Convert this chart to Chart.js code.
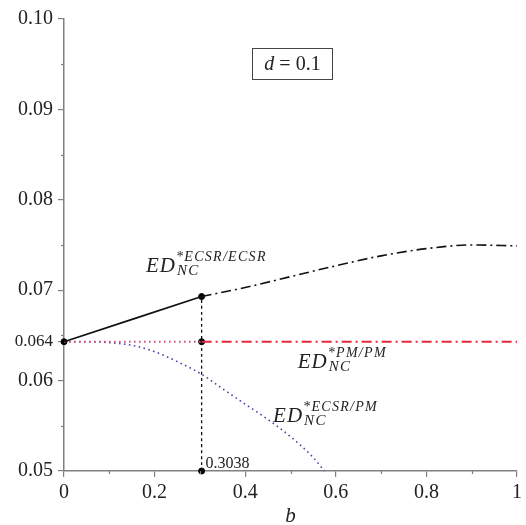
<!DOCTYPE html>
<html>
<head>
<meta charset="utf-8">
<script src="https://cdn.jsdelivr.net/npm/chart.js@4.4.1/dist/chart.umd.min.js"></script>
<style>
  html, body { margin: 0; padding: 0; background: #fff; }
</style>
</head>
<body>
<canvas id="chart" width="526" height="525"></canvas>
<script>
// values (d = 0.1)
const bStar = 0.3038;
const edPmPm = 0.0643;

const bSolid = [0, 0.3038];
const edEcsrEcsrSolid = [0.0643, 0.0693];

const bDashDot = [0.3038, 0.4, 0.5, 0.6, 0.7, 0.8, 0.9, 1.0];
const edEcsrEcsrDashDot = [0.0693, 0.0703, 0.0715, 0.0727, 0.0738, 0.0746, 0.0750, 0.0749];

const bEcsrPm = [0, 0.05, 0.1, 0.15, 0.2, 0.25, 0.3038, 0.35, 0.4, 0.45, 0.5, 0.55, 0.575];
const edEcsrPm = [0.0643, 0.0643, 0.0642, 0.0639, 0.0632, 0.0621, 0.0607, 0.0591, 0.0574, 0.0557, 0.0538, 0.0515, 0.0500];

const xTickValues = [0, 0.2, 0.4, 0.6, 0.8, 1];
const xTickLabels = ['0', '0.2', '0.4', '0.6', '0.8', '1'];
const xMinorTicks = [0.1, 0.3, 0.5, 0.7, 0.9];
const yTickValues = [0.05, 0.06, 0.0643, 0.07, 0.08, 0.09, 0.10];
const yTickLabels = ['0.05', '0.06', '0.064', '0.07', '0.08', '0.09', '0.10'];
const yMinorTicks = [0.055, 0.065, 0.075, 0.085, 0.095];

const serif = '"Liberation Serif", "Times New Roman", serif';
const dashDot = [10, 4, 2, 4];
const dotted = [1.6, 3.4];

const pts = (xs, ys) => xs.map((x, i) => ({ x: x, y: ys[i] }));

function line(data, color, dash, width) {
  return {
    data: data,
    showLine: true,
    borderColor: color,
    borderWidth: width || 1.5,
    borderDash: dash,
    pointRadius: 0,
    cubicInterpolationMode: 'monotone',
    clip: false
  };
}

// math-style label: ED with super- and subscript
function drawEd(ctx, x, y, sup, sub) {
  ctx.fillStyle = '#222';
  ctx.textAlign = 'left';
  ctx.textBaseline = 'alphabetic';
  ctx.letterSpacing = '1px';
  ctx.font = 'italic 21px ' + serif;
  ctx.fillText('ED', x, y);
  const w = ctx.measureText('ED').width;
  ctx.letterSpacing = '1.3px';
  ctx.font = 'italic 14px ' + serif;
  ctx.fillText(sup, x + w, y - 11);
  ctx.font = 'italic 15px ' + serif;
  ctx.fillText(sub, x + w + 1, y + 3);
  ctx.letterSpacing = '0px';
}

const extras = {
  id: 'extras',
  afterDraw(chart) {
    const ctx = chart.ctx;
    const xs = chart.scales.x, ys = chart.scales.y;
    const area = chart.chartArea;
    ctx.save();
    ctx.strokeStyle = '#808080';
    ctx.lineWidth = 1.2;
    // minor ticks
    yMinorTicks.forEach(v => {
      const py = Math.round(ys.getPixelForValue(v)) + 0.5;
      ctx.beginPath(); ctx.moveTo(area.left - 3, py); ctx.lineTo(area.left, py); ctx.stroke();
    });
    xMinorTicks.forEach(v => {
      const px = Math.round(xs.getPixelForValue(v)) + 0.5;
      ctx.beginPath(); ctx.moveTo(px, area.bottom); ctx.lineTo(px, area.bottom + 3); ctx.stroke();
    });

    // d = 0.1 box
    const bx1 = xs.getPixelForValue(0.4156), bx2 = xs.getPixelForValue(0.5932);
    const by1 = ys.getPixelForValue(0.09678), by2 = ys.getPixelForValue(0.09333);
    ctx.strokeStyle = '#444';
    ctx.lineWidth = 1;
    ctx.strokeRect(Math.round(bx1) + 0.5, Math.round(by1) + 0.5, Math.round(bx2 - bx1), Math.round(by2 - by1));
    const cx = (bx1 + bx2) / 2, cy = (by1 + by2) / 2 + 6;
    ctx.fillStyle = '#222';
    ctx.textBaseline = 'alphabetic';
    ctx.font = 'italic 20px ' + serif;
    const dW = ctx.measureText('d').width;
    ctx.font = '20px ' + serif;
    const rest = ' = 0.1';
    const rW = ctx.measureText(rest).width;
    const sx = cx - (dW + rW) / 2;
    ctx.textAlign = 'left';
    ctx.font = 'italic 20px ' + serif;
    ctx.fillText('d', sx, cy);
    ctx.font = '20px ' + serif;
    ctx.fillText(rest, sx + dW, cy);

    // curve labels
    drawEd(ctx, xs.getPixelForValue(0.181), ys.getPixelForValue(0.0720), '*ECSR/ECSR', 'NC');
    drawEd(ctx, xs.getPixelForValue(0.516), ys.getPixelForValue(0.06137), '*PM/PM', 'NC');
    drawEd(ctx, xs.getPixelForValue(0.4616), ys.getPixelForValue(0.05537), '*ECSR/PM', 'NC');

    // b* value
    ctx.font = '16px ' + serif;
    ctx.fillStyle = '#222';
    ctx.fillText('0.3038', xs.getPixelForValue(bStar) + 4, area.bottom - 3);

    // axis title
    ctx.font = 'italic 21px ' + serif;
    ctx.textAlign = 'center';
    ctx.fillText('b', (area.left + area.right) / 2, 522);
    ctx.restore();
  }
};

new Chart(document.getElementById('chart'), {
  type: 'scatter',
  data: {
    datasets: [
      line(pts(bSolid, edEcsrEcsrSolid), '#111', [], 1.7),
      line(pts(bDashDot, edEcsrEcsrDashDot), '#111', dashDot, 1.6),
      line(pts([0, bStar], [edPmPm, edPmPm]), '#d0507a', dotted, 1.8),
      line(pts([bStar, 1], [edPmPm, edPmPm]), '#e4283a', dashDot, 1.8),
      line(pts(bEcsrPm, edEcsrPm), '#4848b0', dotted, 1.6),
      line(pts([bStar, bStar], [0.05, edEcsrEcsrSolid[1]]), '#111', [3, 3], 1.3),
      {
        data: pts([0, bStar, bStar, bStar], [edPmPm, edEcsrEcsrSolid[1], edPmPm, 0.05]),
        showLine: false,
        pointRadius: 3,
        pointBackgroundColor: '#000',
        pointBorderColor: '#000',
        clip: false
      }
    ]
  },
  options: {
    responsive: false,
    animation: false,
    layout: { padding: { left: 0, right: 6, top: 19, bottom: 0 } },
    plugins: { legend: { display: false }, tooltip: { enabled: false } },
    scales: {
      x: {
        type: 'linear',
        min: 0,
        max: 1,
        afterBuildTicks: s => { s.ticks = xTickValues.map(v => ({ value: v })); },
        afterFit: s => { s.height = 54; },
        border: { color: '#808080', width: 1.5 },
        grid: { drawOnChartArea: false, tickLength: 6, color: '#808080', lineWidth: 1.2 },
        ticks: {
          padding: 4,
          color: '#222',
          font: { family: serif, size: 20 },
          callback: (v, i) => xTickLabels[i]
        }
      },
      y: {
        type: 'linear',
        min: 0.05,
        max: 0.10,
        afterBuildTicks: s => { s.ticks = yTickValues.map(v => ({ value: v })); },
        afterFit: s => { s.width = 64; },
        border: { color: '#808080', width: 1.5 },
        grid: { drawOnChartArea: false, tickLength: 6, color: '#808080', lineWidth: 1.2 },
        ticks: {
          padding: 5,
          color: '#222',
          font: c => ({ family: serif, size: c.tick && c.tick.value === edPmPm ? 17 : 20 }),
          callback: (v, i) => yTickLabels[i]
        }
      }
    }
  },
  plugins: [extras]
});
</script>
</body>
</html>
